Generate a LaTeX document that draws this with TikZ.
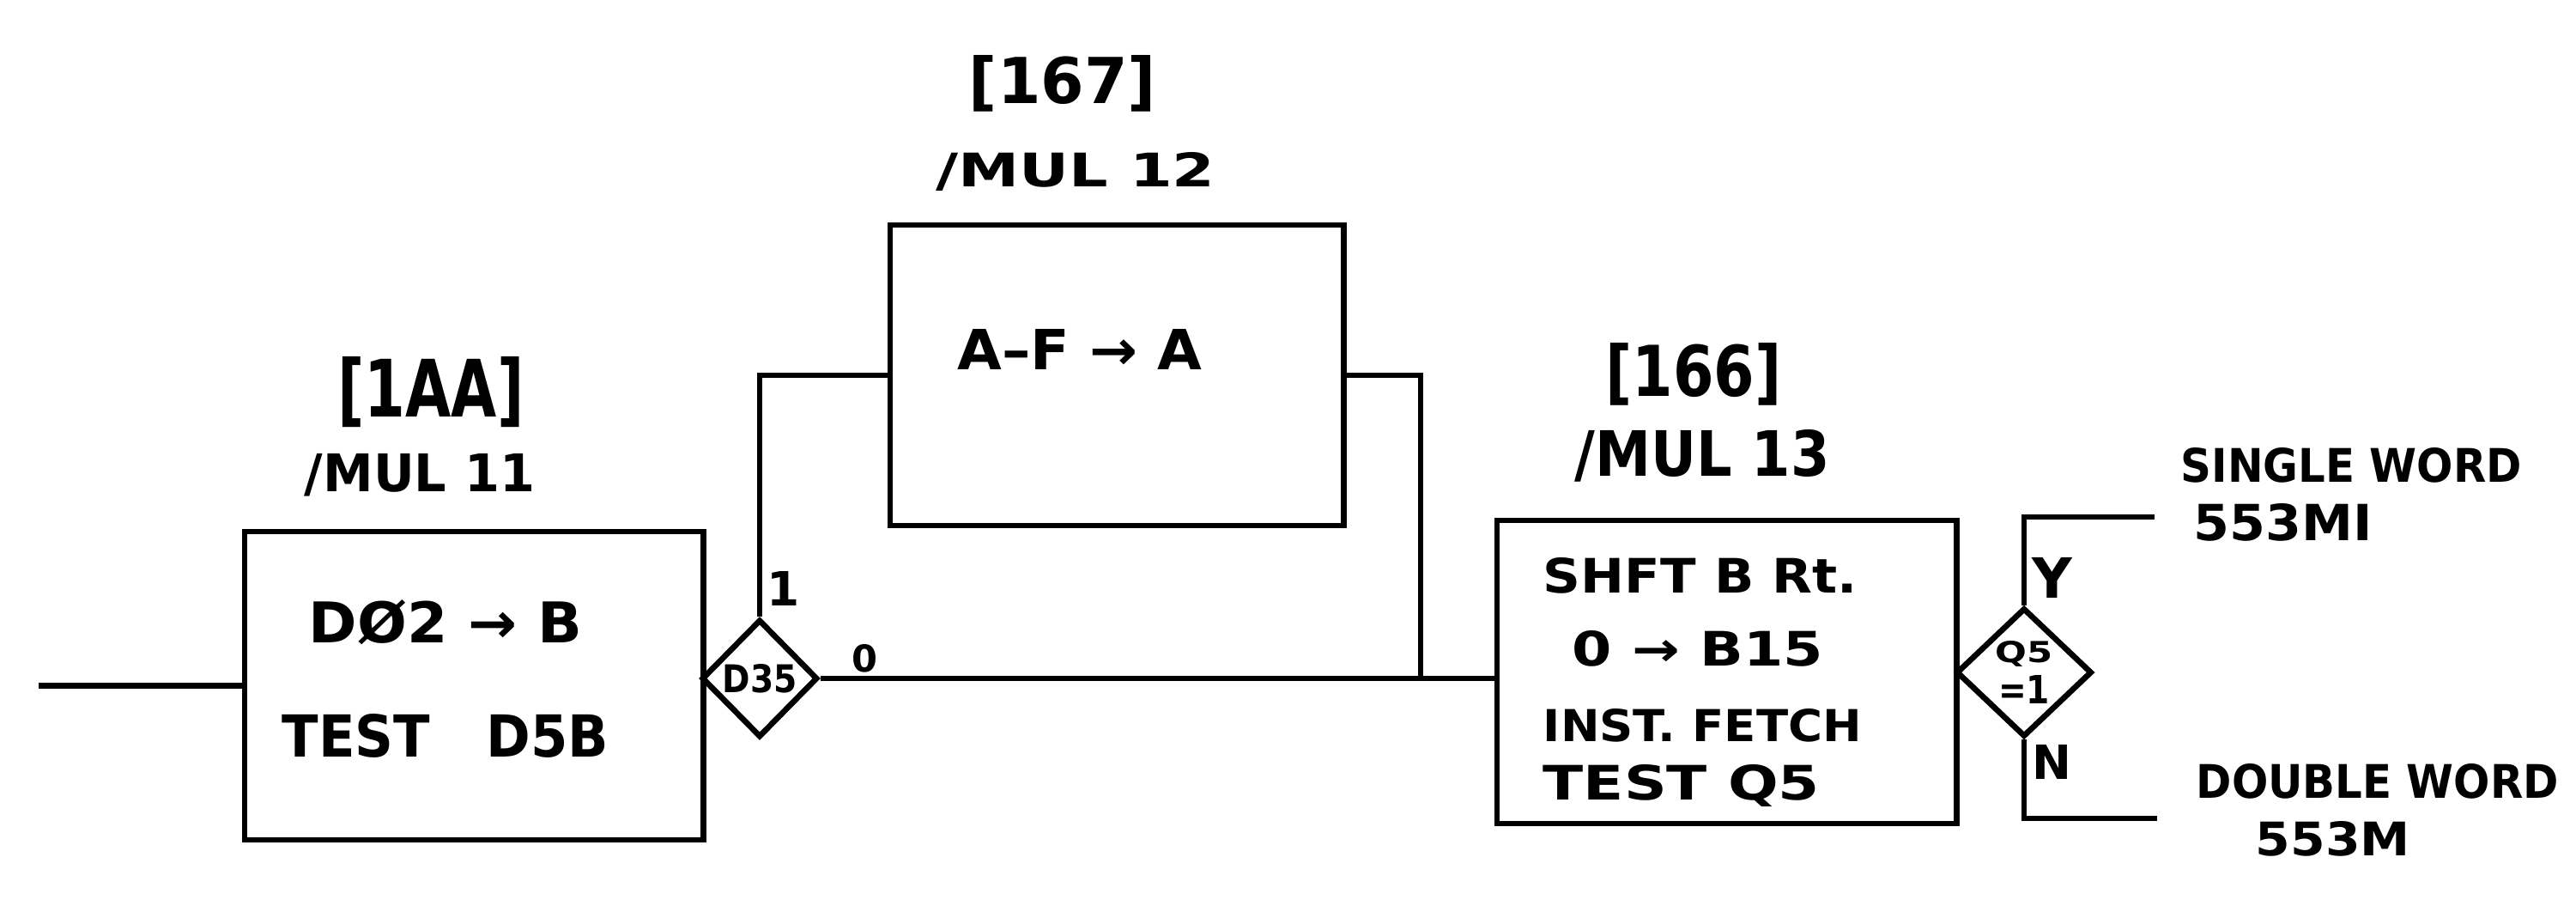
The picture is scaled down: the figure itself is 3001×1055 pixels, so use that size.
\documentclass[tikz,border=0pt]{standalone}
\usepackage{fontspec}
\setmainfont{DejaVu Sans}
\usetikzlibrary{shapes.geometric}
\newcommand\hw[3]{\resizebox{#1cm}{#2cm}{#3}}
\newcommand\hh[2]{\resizebox{!}{#1cm}{#2}}
\tikzset{
  blk/.style={draw, line width=1.9pt, inner sep=0pt, rectangle},
  dia/.style={draw, line width=1.9pt, inner sep=0pt, diamond, align=center, font=\bfseries},
  wire/.style={line width=1.9pt},
  txt/.style={inner sep=0pt, anchor=center, font=\bfseries}
}
\begin{document}
\begin{tikzpicture}[x=0.01cm, y=-0.01cm]
\useasboundingbox (0,0) rectangle (3001,1055);
% blocks
\node[blk, minimum width=5.34cm, minimum height=3.59cm] (b1) at (552,798.5) {};
\node[blk, minimum width=5.28cm, minimum height=3.50cm] (b2) at (1301,437) {};
\node[blk, minimum width=5.35cm, minimum height=3.53cm] (b3) at (2011.5,782.5) {};
% decisions
\node[dia, minimum width=1.35cm, minimum height=1.37cm] (d1) at (885,790) {\hw{0.87}{0.33}{D35}};
\node[dia, minimum width=1.58cm, minimum height=1.50cm] (d2) at (2358,783)
  {\hw{0.67}{0.25}{Q5}\\[0.06cm]\hw{0.60}{0.33}{=1}};
% free ends
\coordinate (in) at (45,798.5);
\coordinate (j) at (1655,790);
\coordinate (yend) at (2510,602);
\coordinate (nend) at (2513,953);
% connectors
\draw[wire] (in) -- (b1.west);
\draw[wire] (d1.east) -- (d1.east -| b3.west);
\draw[wire] (d1.north) |- (b2.west);
\draw[wire] (b2.east) -| (j);
\draw[wire] (d2.north) |- (yend);
\draw[wire] (d2.south) |- (nend);
% block headers
\node[txt] (h1a) at (502,457) {\hw{2.17}{0.70}{[1AA]}};
\node[txt] (h1b) at (489,553) {\hw{2.68}{0.44}{/MUL 11}};
\node[txt] (h2a) at (1238,97) {\hw{2.18}{0.56}{[167]}};
\node[txt] (h2b) at (1253,200) {\hw{3.25}{0.40}{/MUL 12}};
\node[txt] (h3a) at (1973,436) {\hw{2.05}{0.62}{[166]}};
\node[txt] (h3b) at (1983,531) {\hw{2.97}{0.54}{/MUL 13}};
% block contents
\node[txt] (t11) at (519,725) {\hw{3.18}{0.50}{DØ2 → B}};
\node[txt] (t12) at (519,857) {\hw{3.80}{0.50}{TEST\ \ \ D5B}};
\node[txt] (t21) at (1258,407) {\hw{2.85}{0.47}{A–F → A}};
\node[txt, anchor=west] (t31) at (1797,670) {\hw{3.66}{0.41}{SHFT B Rt.}};
\node[txt, anchor=west] (t32) at (1831,755) {\hw{2.92}{0.41}{0 → B15}};
\node[txt, anchor=west] (t33) at (1797,845) {\hw{3.71}{0.38}{INST. FETCH}};
\node[txt, anchor=west] (t34) at (1797,915) {\hw{3.22}{0.41}{TEST Q5}};
% branch labels
\node[txt] (l1) at (913,685) {\hh{0.40}{1}};
\node[txt] (l0) at (1007,767) {\hh{0.32}{0}};
\node[txt] (ly) at (2391,673) {\hh{0.47}{Y}};
\node[txt] (ln) at (2390,887) {\hh{0.40}{N}};
% exits
\node[txt, anchor=west] (o1) at (2540,542) {\hw{3.97}{0.40}{SINGLE WORD}};
\node[txt, anchor=west] (o2) at (2555,608) {\hw{2.08}{0.43}{553MI}};
\node[txt, anchor=west] (o3) at (2558,910) {\hw{4.22}{0.40}{DOUBLE WORD}};
\node[txt, anchor=west] (o4) at (2627,977) {\hw{1.80}{0.40}{553M}};
\end{tikzpicture}
\end{document}
